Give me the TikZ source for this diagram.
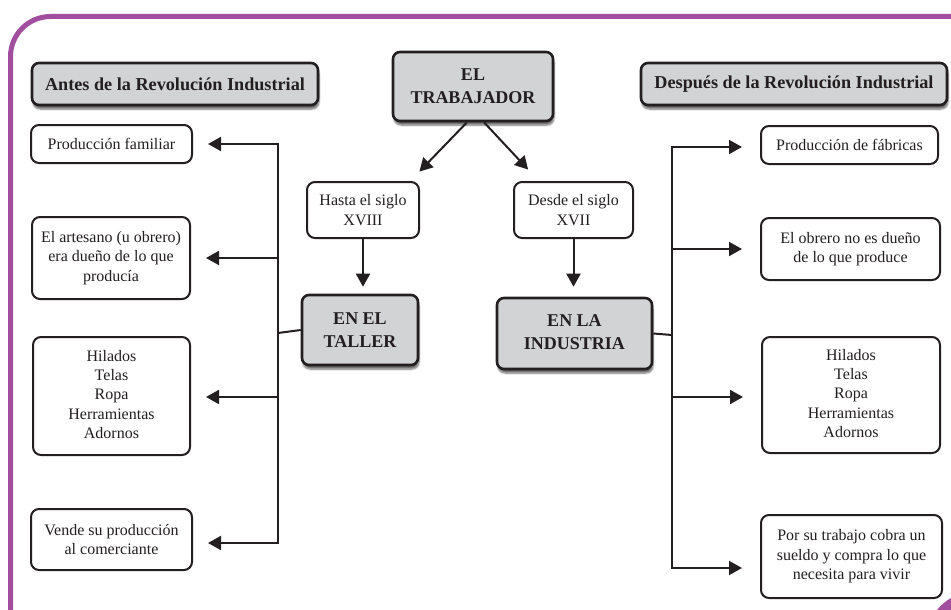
\documentclass[tikz,border=0pt]{standalone}
\usepackage{fontspec}
\setmainfont{Liberation Serif}
\usetikzlibrary{arrows.meta,shadows.blur,calc}
\definecolor{frame}{HTML}{A24E9F}
\definecolor{boxgray}{HTML}{D1D3D4}
\definecolor{ink}{HTML}{231F20}
\newcommand{\upby}[2]{\raisebox{#1}{\begin{tabular}{@{}c@{}}#2\end{tabular}}}
\begin{document}
\begin{tikzpicture}[x=1pt,y=-1pt,
  every node/.style={text=ink},
  whitebox/.style={draw=ink, line width=2pt, rounded corners=8pt, fill=white, align=center,
    inner sep=0pt, font=\fontsize{16}{19.4}\selectfont},
  graybox/.style={draw=ink, line width=2.6pt, rounded corners=7pt, fill=boxgray, align=center,
    inner sep=0pt, font=\fontsize{18}{23}\selectfont\bfseries,
    blur shadow={shadow xshift=1pt, shadow yshift=-4pt, shadow blur steps=6, shadow opacity=60}},
  headbox/.style={graybox, font=\fontsize{18.2}{20}\selectfont\bfseries},
  link/.style={draw=ink, line width=2pt},
  arr/.style={link, -{Triangle[length=13pt,width=14pt]}}
]
\useasboundingbox (0,0) rectangle (951,610);
% purple frame
\draw[frame, line width=5pt, rounded corners=40pt] (10.5,640) -- (10.5,16.5) -- (980,16.5);
\fill[frame] (937,610) .. controls (942,604) and (946,601) .. (951,598) -- (951,610) -- cycle;

% headers
\node[headbox, minimum width=286pt, minimum height=42pt] (antes) at (175,84) {Antes de la Revolución Industrial};
\node[headbox, minimum width=306pt, minimum height=42pt] (despues) at (794,84) {Después de la Revolución Industrial};
\node[graybox, minimum width=160pt, minimum height=69pt] (trab) at (473,86.5) {EL\\TRABAJADOR};
\node[graybox, minimum width=116pt, minimum height=70pt] (taller) at (360,330) {EN EL\\TALLER};
\node[graybox, minimum width=155pt, minimum height=71pt] (indus) at (574.5,333.5) {\upby{3pt}{EN LA\\INDUSTRIA}};

% middle boxes
\node[whitebox, minimum width=112pt, minimum height=56pt] (hasta) at (363,210) {Hasta el siglo\\XVIII};
\node[whitebox, minimum width=119pt, minimum height=56pt] (desde) at (573.5,210) {Desde el siglo\\XVII};

% left boxes
\node[whitebox, minimum width=161pt, minimum height=38pt] (pf) at (111.5,144) {Producción familiar};
\node[whitebox, minimum width=158pt, minimum height=82pt] (art) at (111,258) {El artesano (u obrero)\\era dueño de lo que\\producía};
\node[whitebox, minimum width=157pt, minimum height=118pt] (hilL) at (111.5,396) {\upby{4pt}{Hilados\\Telas\\Ropa\\Herramientas\\Adornos}};
\node[whitebox, minimum width=161pt, minimum height=61pt] (vende) at (111.5,539.5) {Vende su producción\\al comerciante};

% right boxes
\node[whitebox, minimum width=177pt, minimum height=38pt] (pfab) at (849.5,145) {Producción de fábricas};
\node[whitebox, minimum width=179pt, minimum height=62pt] (obr) at (850.5,249) {El obrero no es dueño\\de lo que produce};
\node[whitebox, minimum width=178pt, minimum height=116pt] (hilR) at (851,395) {\upby{4pt}{Hilados\\Telas\\Ropa\\Herramientas\\Adornos}};
\node[whitebox, minimum width=181pt, minimum height=83pt] (por) at (851.5,556.5) {Por su trabajo cobra un\\sueldo y compra lo que\\necesita para vivir};

% top arrows
\draw[arr, shorten >=2pt] ([xshift=-6pt]trab.south) -- ($(hasta.north)+(55,-8)$);
\draw[arr, shorten >=2pt] ([xshift=11pt]trab.south) -- ($(desde.north)+(-44,-10)$);
\draw[arr, shorten >=7pt] (hasta.south) -- (hasta.south |- taller.north);
\draw[arr, shorten >=10pt] (desde.south) -- (desde.south |- indus.north);

% left bus
\coordinate (lbus) at (278,333);
\draw[link] (taller.west) -- (lbus);
\draw[link, line cap=rect] (lbus |- pf.east) -- (lbus |- 0,543);
\draw[arr, shorten >=15pt] (lbus |- pf.east) -- (pf.east);
\draw[arr, shorten >=15pt] (lbus |- art.east) -- (art.east);
\draw[arr, shorten >=15pt] (lbus |- 0,397) -- (hilL.east |- 0,397);
\draw[arr, shorten >=15pt] (lbus |- 0,543) -- (vende.east |- 0,543);

% right bus
\coordinate (rbus) at (672,335);
\draw[link] (indus.east) -- (rbus);
\draw[link, line cap=rect] (rbus |- 0,147) -- (rbus |- 0,568);
\draw[arr, shorten >=18pt] (rbus |- 0,147) -- (pfab.west |- 0,147);
\draw[arr, shorten >=18pt] (rbus |- obr.west) -- (obr.west);
\draw[arr, shorten >=18pt] (rbus |- 0,397) -- (hilR.west |- 0,397);
\draw[arr, shorten >=18pt] (rbus |- 0,568) -- (por.west |- 0,568);
\end{tikzpicture}
\end{document}
